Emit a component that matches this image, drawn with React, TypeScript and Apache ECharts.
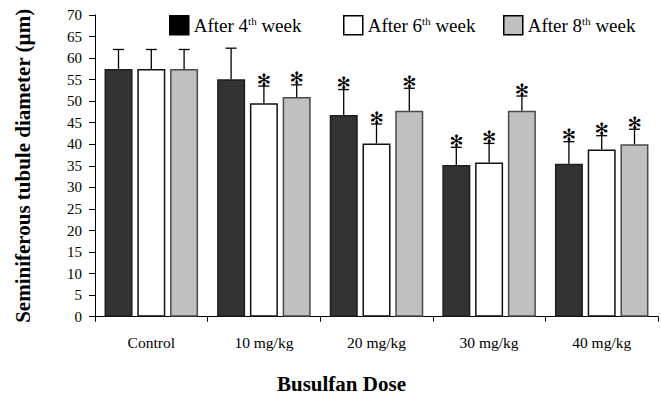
import React, { useEffect, useRef } from "react";
import * as echarts from "echarts";

const categories = ["Control", "10 mg/kg", "20 mg/kg", "30 mg/kg", "40 mg/kg"];
const seriesNames = ["After 4th week", "After 6th week", "After 8th week"];
const weekNumbers = ["4", "6", "8"];
const week4 = [57.5, 55.1, 46.8, 35.2, 35.5];
const week6 = [57.5, 49.5, 40.2, 35.8, 38.8];
const week8 = [57.5, 51.0, 47.8, 47.8, 40.0];
const sd4 = [4.5, 7.2, 5.9, 4.1, 5.1];
const sd6 = [4.5, 4.0, 4.5, 4.4, 3.2];
const sd8 = [4.5, 2.8, 5.2, 3.4, 3.5];
const sig4 = [false, false, true, true, true];
const sig6 = [false, true, true, true, true];
const sig8 = [false, true, true, true, true];

const SERIF = "Liberation Serif";

export default function App() {
  const ref = useRef<HTMLDivElement>(null);
  useEffect(() => {
    if (!ref.current) return;
    const chart = echarts.init(ref.current, undefined, { renderer: "svg" });
    const values = [week4, week6, week8];
    const sds = [sd4, sd6, sd8];
    const sigs = [sig4, sig6, sig8];
    const fills = ["#333333", "#ffffff", "#c0c0c0"];
    const borders = ["#1e1e1e", "#111111", "#4a4a4a"];
    const legendFills = ["#000000", "#ffffff", "#c0c0c0"];
    const legendLeft = [169, 343, 503];
    const barW = 28;
    const step = 32.8;

    const barSeries = values.map((v, i) => ({
      name: seriesNames[i],
      type: "bar",
      data: v,
      barWidth: barW,
      barGap: "17%",
      itemStyle: { color: fills[i], borderColor: borders[i], borderWidth: 1.5 },
    }));

    const errSeries = values.map((v, i) => ({
      type: "custom",
      silent: true,
      z: 5,
      data: v.map((val, j) => [j, val, sds[i][j], sigs[i][j] ? 1 : 0]),
      renderItem: (params: any, api: any) => {
        const c = api.value(0);
        const val = api.value(1);
        const e = api.value(2);
        const star = api.value(3);
        const base = api.coord([c, val]);
        const top = api.coord([c, val + e]);
        const x = base[0] + (i - 1) * step;
        const children: any[] = [
          {
            type: "line",
            shape: { x1: x, y1: base[1], x2: x, y2: top[1] },
            style: { stroke: "#000", lineWidth: 1.3 },
          },
          {
            type: "line",
            shape: { x1: x - 5.5, y1: top[1], x2: x + 5.5, y2: top[1] },
            style: { stroke: "#000", lineWidth: 1.3 },
          },
        ];
        if (star) {
          children.push({
            type: "text",
            x: x,
            y: top[1] + 2,
            style: {
              text: "✻",
              fill: "#000",
              font: "bold 17px 'DejaVu Sans'",
              align: "center",
              verticalAlign: "bottom",
            },
          });
        }
        return { type: "group", children };
      },
    }));

    const option: any = {
      animation: false,
      backgroundColor: "#ffffff",
      grid: { left: 95, right: 3, top: 15, bottom: 79.3 },
      legend: seriesNames.map((n, i) => ({
        data: [{ name: n, itemStyle: { color: legendFills[i], borderColor: "#000", borderWidth: 1.5 } }],
        left: legendLeft[i],
        top: 15,
        padding: 0,
        itemWidth: 19,
        itemHeight: 19,
        icon: "rect",
        selectedMode: false,
        formatter: () => `{a|After ${weekNumbers[i]}}{s|th}{a| week}`,
        textStyle: {
          color: "#000",
          fontFamily: SERIF,
          fontSize: 19,
          rich: {
            a: { fontFamily: SERIF, fontSize: 19, color: "#000" },
            s: { fontFamily: SERIF, fontSize: 11, color: "#000", verticalAlign: "top", padding: [0, 0, 8, 0] },
          },
        },
      })),
      title: {
        text: "Busulfan Dose",
        left: 277,
        top: 373,
        padding: 0,
        textStyle: { fontFamily: SERIF, fontSize: 21, fontWeight: "bold", color: "#000", lineHeight: 21 },
      },
      xAxis: {
        type: "category",
        data: categories,
        boundaryGap: true,
        axisLine: { lineStyle: { color: "#000", width: 1 } },
        axisTick: { show: true, length: 5, lineStyle: { color: "#000" } },
        axisLabel: { color: "#000", fontFamily: SERIF, fontSize: 15.5, margin: 18 },
      },
      yAxis: {
        type: "value",
        min: 0,
        max: 70,
        interval: 5,
        name: "Seminiferous tubule diameter (µm)",
        nameLocation: "middle",
        nameGap: 62,
        nameTextStyle: { fontFamily: SERIF, fontSize: 21, fontWeight: "bold", color: "#000" },
        axisLine: { show: true, lineStyle: { color: "#000", width: 1 } },
        axisTick: { show: true, length: 6, lineStyle: { color: "#000" } },
        axisLabel: { color: "#000", fontFamily: SERIF, fontSize: 15, margin: 13 },
        splitLine: { show: false },
      },
      series: [...barSeries, ...errSeries],
    };
    chart.setOption(option);
    return () => chart.dispose();
  }, []);
  return (
    <div
      ref={ref}
      style={{ position: "fixed", left: 0, top: 0, width: 661, height: 396, background: "#fff" }}
    />
  );
}
